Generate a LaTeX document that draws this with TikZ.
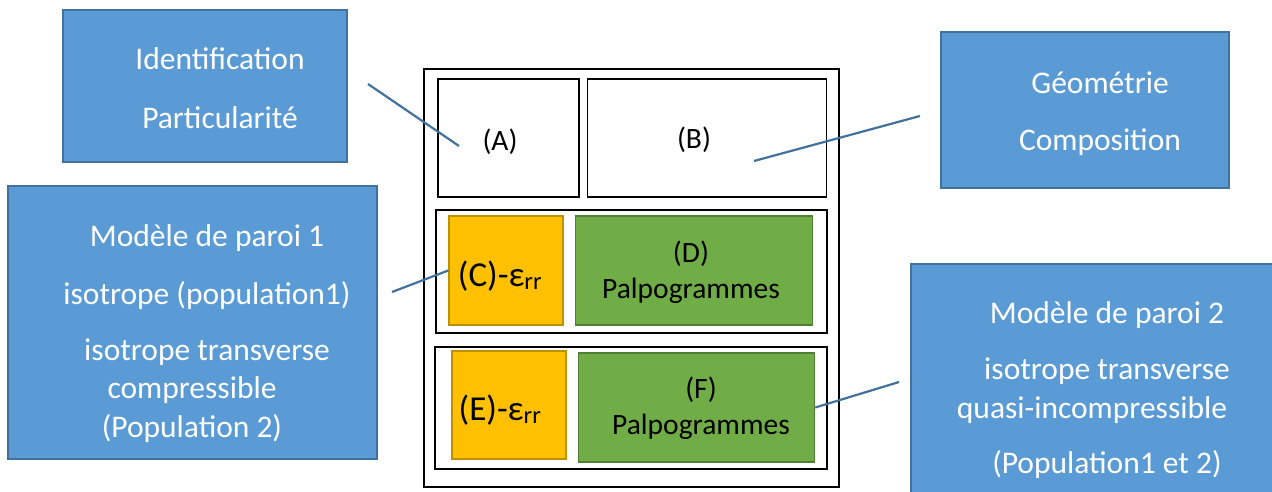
\documentclass[tikz,border=0pt]{standalone}
\usepackage{fontspec}
\setmainfont{Carlito}
\usetikzlibrary{positioning}
\definecolor{boxblue}{HTML}{5B9BD5}
\definecolor{boxline}{HTML}{41719C}
\definecolor{ambre}{HTML}{FFC000}
\definecolor{ambreline}{HTML}{BF9000}
\definecolor{vert}{HTML}{70AD47}
\definecolor{vertline}{HTML}{507E32}
\begin{document}
\begin{tikzpicture}[x=1pt, y=-1pt,
    bloc/.style={draw=boxline, line width=1.5pt, fill=boxblue, inner sep=0pt},
    cadre/.style={draw, line width=1.3pt, inner sep=0pt},
    mesure/.style={draw=ambreline, line width=1.5pt, fill=ambre, inner sep=0pt},
    palpo/.style={draw=vertline, line width=1.5pt, fill=vert, inner sep=0pt},
    blanc/.style={text=white, align=center, anchor=base, inner sep=0pt, font=\fontsize{31.5}{38.5}\selectfont},
    noir/.style={align=center, anchor=base, inner sep=0pt, font=\fontsize{29.5}{36}\selectfont},
    gros/.style={anchor=base, inner sep=0pt, font=\fontsize{35}{42}\selectfont},
    lien/.style={draw=boxline, line width=2.2pt}]
    \useasboundingbox (0,0) rectangle (1272,491);
    \clip (0,0) rectangle (1272,491);

    % central sheet
    \node[cadre, minimum width=415pt, minimum height=418pt] (fiche) at (631.5,278) {};
    \node[cadre, minimum width=141pt, minimum height=118pt] (A) at (508.5,138) {};
    \node[cadre, minimum width=239pt, minimum height=118pt, right=7pt of A] (B) {};
    \node[cadre, minimum width=391pt, minimum height=123pt] (rang1) at (631.5,271.5) {};
    \node[mesure, minimum width=114pt, minimum height=109pt] (C) at (506,270.5) {};
    \node[palpo, minimum width=237pt, minimum height=109pt, right=11pt of C] (D) {};
    \node[cadre, minimum width=392pt, minimum height=122pt] (rang2) at (631,408) {};
    \node[mesure, minimum width=114pt, minimum height=108pt] (E) at (509,405) {};
    \node[palpo, minimum width=236pt, minimum height=109pt, right=11pt of E, yshift=-2.5pt] (F) {};

    \node[noir] (tA) at (500,150) {(A)};
    \node[noir] (tB) at (694,148) {(B)};
    \node[gros] (tC) at (500,286) {(C)-ε\textsubscript{rr}};
    \node[noir] (tD) at (691,298) {(D)\\Palpogrammes};
    \node[gros] (tE) at (500,420) {(E)-ε\textsubscript{rr}};
    \node[noir] (tF) at (701,434) {(F)\\Palpogrammes};

    % blue call-outs
    \node[bloc, minimum width=284pt, minimum height=152pt] (ident) at (205,86) {};
    \node[bloc, minimum width=369pt, minimum height=273pt] (modele1) at (192.5,322.5) {};
    \node[bloc, minimum width=288pt, minimum height=156pt] (geom) at (1085,110) {};
    \node[bloc, minimum width=389pt, minimum height=257pt] (modele2) at (1105.5,392.5) {};

    \node[blanc] (tIdent) at (220,128) {Identification\\[20.5pt]Particularité};
    \node[blanc] (tModele1) at (207,437) {Modèle de paroi 1\\[19.5pt]isotrope (population1)\\[17.5pt]isotrope transverse\\compressible\hspace*{30pt}\null\\(Population 2)\hspace*{30pt}\null};
    \node[blanc] (tGeom) at (1100,150) {Géométrie\\[18.5pt]Composition};
    \node[blanc] (tModele2) at (1107,473) {Modèle de paroi 2\\[17.5pt]isotrope transverse\\quasi-incompressible\hspace*{30pt}\null\\[16.5pt](Population1 et 2)};

    % leader lines
    \coordinate (pA) at (368,84);
    \coordinate (qA) at (459,146);
    \coordinate (pB) at (754,161);
    \coordinate (qB) at (920,116);
    \coordinate (pC) at (392,292);
    \coordinate (qF) at (899,382);
    \draw[lien] (pA) -- (qA);
    \draw[lien] (pB) -- (qB);
    \draw[lien] (pC) -- (C.west);
    \draw[lien] (F.east) -- (qF);
\end{tikzpicture}
\end{document}
